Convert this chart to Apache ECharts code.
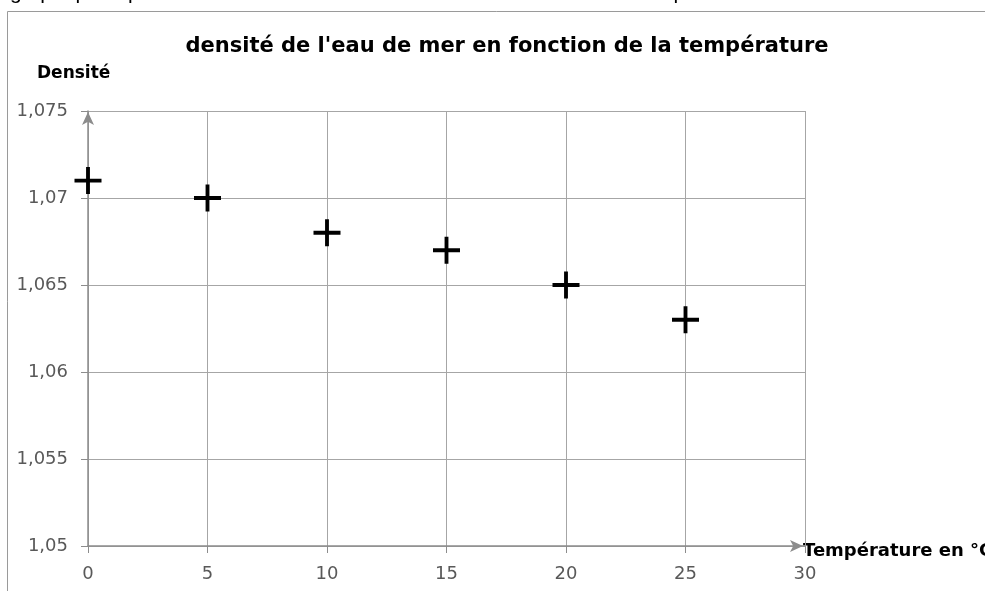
<!DOCTYPE html>
<html>
<head>
<meta charset="utf-8">
<script src="https://cdn.jsdelivr.net/npm/echarts@6/dist/echarts.min.js"></script>
<style>
html,body{margin:0;padding:0;background:#fff;}
#c{width:985px;height:591px;}
</style>
</head>
<body>
<div id="c"></div>
<script>
const temperatures = [0, 5, 10, 15, 20, 25];
const densities = [1.071, 1.070, 1.068, 1.067, 1.065, 1.063];
const titleText = "densité de l'eau de mer en fonction de la température";
const yName = "Densité";
const xName = "Température en °C";
const topCaption = "graphique représentant la densité de l'eau de mer en fonction de la température";

const chart = echarts.init(document.getElementById('c'));
const fmtY = v => {
  let s = (Math.round(v * 1000) / 1000).toFixed(3).replace(/0+$/, '').replace(/\.$/, '');
  return s.replace('.', ',');
};
const plus = 'path://M12,0h4v12h12v4h-12v12h-4v-12h-12v-4h12z';
const FONT = 'DejaVu Sans';
chart.setOption({
  animation: false,
  backgroundColor: '#fff',
  title: {
    text: titleText,
    left: 502, top: 31, textAlign: 'center',
    textStyle: {fontFamily: FONT, fontWeight: 'bold', fontSize: 21, color: '#000'}
  },
  grid: {left: 88, right: 180, top: 111, bottom: 45},
  xAxis: {
    type: 'value', min: 0, max: 30, interval: 5,
    axisLine: {show: true, lineStyle: {color: '#8c8c8c', width: 1.5}, symbol: ['none', 'arrow'], symbolSize: [9, 13], symbolOffset: [0, -2]},
    axisTick: {show: true, length: 7, lineStyle: {color: '#8c8c8c'}},
    axisLabel: {margin: 19, fontFamily: FONT, fontSize: 18, color: '#595959'},
    splitLine: {show: true, lineStyle: {color: '#a6a6a6', width: 1}}
  },
  yAxis: {
    type: 'value', min: 1.05, max: 1.075, interval: 0.005,
    axisLine: {show: true, lineStyle: {color: '#8c8c8c', width: 1.5}, symbol: ['none', 'arrow'], symbolSize: [9, 13], symbolOffset: [0, -1]},
    axisTick: {show: true, length: 7, lineStyle: {color: '#8c8c8c'}},
    axisLabel: {margin: 20, fontFamily: FONT, fontSize: 18, color: '#595959', formatter: fmtY},
    splitLine: {show: true, lineStyle: {color: '#a6a6a6', width: 1}}
  },
  series: [{
    type: 'scatter',
    data: temperatures.map((t, i) => [t, densities[i]]),
    symbol: plus, symbolSize: 27,
    itemStyle: {color: '#000', opacity: 1}
  }],
  graphic: [
    {type: 'rect', shape: {x: 7.5, y: 11.5, width: 1000, height: 600}, style: {fill: 'none', stroke: '#9a9a9a', lineWidth: 1}, silent: true},
    {type: 'text', left: 37, top: 65, style: {text: yName, fontFamily: FONT, fontWeight: 'bold', fontSize: 17, fill: '#000'}},
    {type: 'text', left: 803, top: 542, style: {text: xName, fontFamily: FONT, fontWeight: 'bold', fontSize: 18, fill: '#000'}},
    {type: 'text', left: 10, top: -17, style: {text: topCaption, fontFamily: 'Liberation Sans', fontSize: 21, fill: '#000'}}
  ]
});
</script>
</body>
</html>
